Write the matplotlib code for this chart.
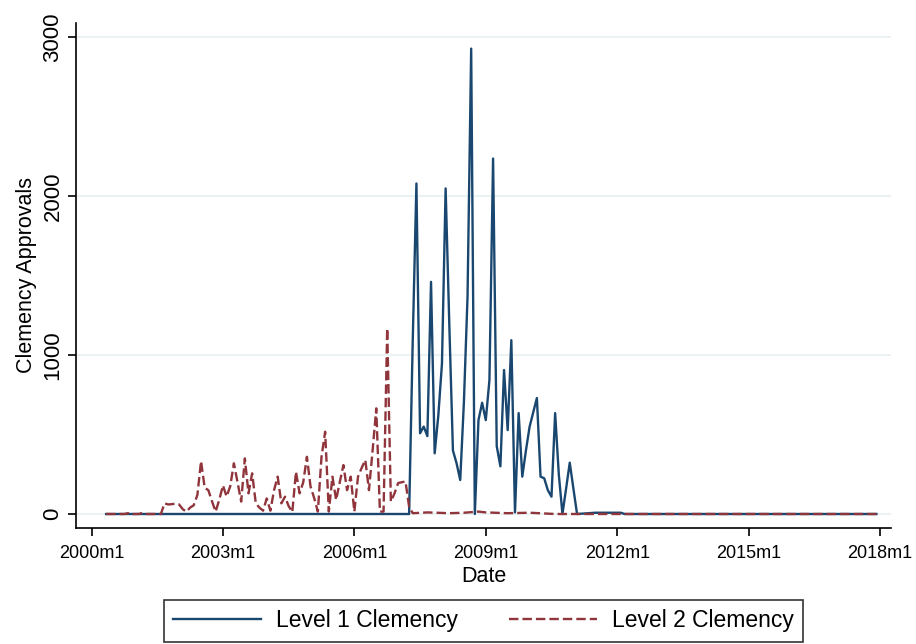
import matplotlib.pyplot as plt
import matplotlib.ticker as mticker

plt.rcParams["font.family"] = ["Liberation Sans", "DejaVu Sans"]

# Months counted from 2000m1 (= 0); vertices
level1_month = [4] + list(range(87, 134)) + [138, 145, 146, 215]
level1_value = [0,
                0, 1100, 2080, 508, 550, 490, 1461, 382, 620, 948,
                2049, 1200, 400, 319, 214, 700, 1367, 2929, 0, 591,
                700, 591, 843, 2237, 427, 300, 906, 528, 1094, 10,
                635, 235, 400, 549, 640, 730, 235, 225, 150, 109,
                635, 250, 0, 160, 323, 160, 0,
                8, 8, 0, 0]

level2_month = [4, 9, 10, 11, 13, 14, 15, 19] + list(range(20, 89)) + \
               [92, 98, 102, 106, 108, 114, 120, 127, 215]
level2_value = [0, 0, 5, 0, 0, 8, 0, 0,
                67, 60, 62, 65, 60, 30, 15, 40, 55, 120,
                333, 165, 150, 80, 15, 90, 180, 110, 175, 319,
                200, 78, 350, 130, 256, 67, 40, 21, 98, 21,
                150, 235, 67, 109, 50, 12, 266, 130, 200, 360,
                172, 100, 15, 360, 518, 15, 235, 88, 200, 308,
                150, 235, 15, 235, 290, 340, 150, 400, 665, 15,
                15, 1168, 78, 130, 195, 200, 205, 46, 5,
                10, 5, 8, 15, 10, 5, 8, 0, 0]

tick_months = [0, 36, 72, 108, 144, 180, 216]
tick_labels = ["2000m1", "2003m1", "2006m1", "2009m1", "2012m1", "2015m1", "2018m1"]
y_ticks = [0, 1000, 2000, 3000]

navy = "#1a476f"
maroon = "#90353b"

fig = plt.figure(figsize=(9.16, 6.44), dpi=100)
ax = fig.add_axes([76 / 916, (644 - 528.3) / 644, 815 / 916, 505.6 / 644])

ax.plot(level1_month, level1_value, color=navy, lw=1.7, label="Level 1 Clemency")
ax.plot(level2_month, level2_value, color=maroon, lw=1.7, dashes=(4, 1.7),
        label="Level 2 Clemency")

ax.set_xlim(-4.25, 219.0)
ax.set_ylim(-90, 3092)
ax.set_xticks(tick_months)
ax.set_xticklabels(tick_labels)
ax.set_yticks(y_ticks)
ax.yaxis.set_major_formatter(mticker.FuncFormatter(lambda v, p: f"{v:.0f}"))
ax.tick_params(axis="both", direction="out", length=6, width=1.2, color="black")
ax.tick_params(axis="x", labelsize=13, pad=6)
ax.tick_params(axis="y", labelsize=16, labelrotation=90, pad=3)
for t in ax.get_yticklabels():
    t.set_va("center")

ax.grid(axis="y", color="#eaf2f3", lw=1.5)
ax.set_axisbelow(True)
for side in ["top", "right"]:
    ax.spines[side].set_visible(False)
for side in ["left", "bottom"]:
    ax.spines[side].set_linewidth(1.2)

ax.set_xlabel("Date", fontsize=15.5, labelpad=3)
ax.set_ylabel("Clemency Approvals", fontsize=15.5, labelpad=4)

leg = fig.legend(loc="center", bbox_to_anchor=(483.5 / 916, 23 / 644), ncol=2,
                 fontsize=16.5, handlelength=3.84, handletextpad=0.65,
                 columnspacing=2.2, frameon=True, fancybox=False,
                 edgecolor="black", borderpad=0.4)
leg.get_frame().set_linewidth(1.2)

fig.savefig("out.png", dpi=100)
